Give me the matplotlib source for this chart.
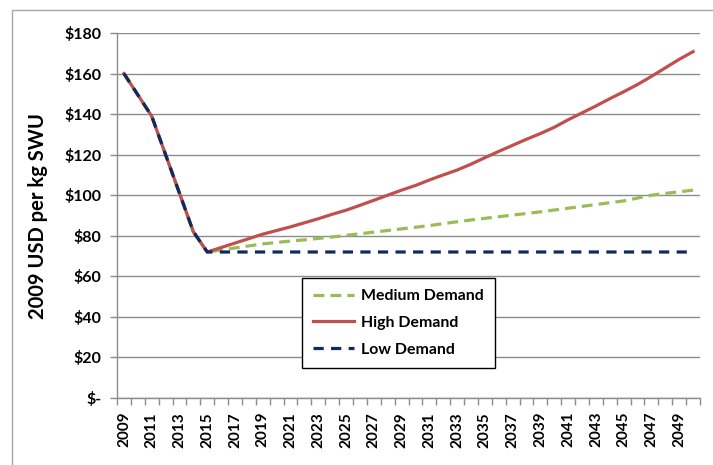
import matplotlib
matplotlib.use("Agg")
import matplotlib.pyplot as plt
from matplotlib.patches import Rectangle
from matplotlib.ticker import FuncFormatter, FixedLocator

years = list(range(2009, 2051))

medium_demand = [160, 149.5, 139, 120, 101, 82,
                 72, 73, 74, 75, 76, 76.7, 77.4, 78, 78.7, 79.4, 80.2,
                 81, 81.8, 82.6, 83.4, 84.2, 85, 86, 86.9, 87.8, 88.6,
                 89.4, 90.2, 91, 91.8, 92.7, 93.6, 94.5, 95.4, 96.3, 97.2,
                 98.6, 100, 100.9, 101.7, 102.5]
high_demand = [160, 149.5, 139, 120, 101, 82,
               72, 74.2, 76.4, 78.6, 80.8, 82.6, 84.4, 86.4, 88.4, 90.6, 92.6,
               95, 97.5, 100, 102.5, 104.8, 107.5, 110, 112.4, 115.3, 118.5,
               121.6, 124.6, 127.6, 130.4, 133.5, 137.2, 140.6, 144, 147.6, 151,
               154.6, 158.6, 162.8, 167, 170.8]
low_demand = [160, 149.5, 139, 120, 101, 82] + [72] * 36

y_ticks = [0, 20, 40, 60, 80, 100, 120, 140, 160, 180]

font = ["Lato", "DejaVu Sans"]
plt.rcParams["font.family"] = font
plt.rcParams["font.weight"] = "bold"

fig = plt.figure(figsize=(7.13, 4.65), dpi=100)
fig.patch.set_facecolor("white")
# outer chart-area frame (runs off the right and bottom edges)
fig.patches.append(Rectangle((12 / 713, -0.1), 1.2, 1 - 10 / 465 + 0.1,
                             transform=fig.transFigure, fill=False,
                             edgecolor="#a6a6a6", linewidth=1.0))

ax = fig.add_axes([117 / 713, 1 - 398 / 465, (700 - 117) / 713, (398 - 33) / 465])

idx = list(range(len(years)))
lw = 2.3
ax.plot(idx, medium_demand, color="#9BBB59", linewidth=lw,
        dashes=(3.4, 1.9), label="Medium Demand", zorder=3)
ax.plot(idx, high_demand, color="#C0504D", linewidth=lw,
        label="High Demand", zorder=4)
ax.plot(idx, low_demand, color="#0E2A5E", linewidth=lw,
        dashes=(3.2, 2.3), label="Low Demand", zorder=5)

ax.set_xlim(-0.5, len(years) - 0.5)
ax.set_ylim(0, 180)

# category labels every other year, tick marks at category boundaries
ax.xaxis.set_major_locator(FixedLocator(idx[::2]))
ax.set_xticklabels([str(y) for y in years[::2]], rotation=90,
                   fontsize=11, fontweight="bold")
ax.xaxis.set_minor_locator(FixedLocator([i - 0.5 for i in range(len(years) + 1)]))
ax.tick_params(axis="x", which="major", length=0, pad=10)
ax.tick_params(axis="x", which="minor", length=5, width=1, color="#8c8c8c",
               direction="out")

ax.set_yticks(y_ticks)
ax.yaxis.set_major_formatter(FuncFormatter(
    lambda v, p: "$-" if v == 0 else f"${int(v)}"))
ax.tick_params(axis="y", length=5, width=1, color="#8c8c8c", pad=6,
               labelsize=11.5)
for lab in ax.get_yticklabels():
    lab.set_fontweight("bold")

ax.grid(axis="y", color="#8c8c8c", linewidth=1.0)
ax.set_axisbelow(True)
for s in ("top", "right"):
    ax.spines[s].set_visible(False)
for s in ("left", "bottom"):
    ax.spines[s].set_color("#8c8c8c")
    ax.spines[s].set_linewidth(1.0)

ax.set_ylabel("2009 USD per kg SWU", fontsize=14.5, fontweight="bold", labelpad=12)

leg = ax.legend(loc="upper left", bbox_to_anchor=((302 - 117) / 583, (398 - 278) / 365),
                frameon=True, fancybox=False, edgecolor="black", framealpha=1,
                fontsize=11.4, handlelength=2.6, handletextpad=0.45,
                labelspacing=0.8, borderpad=0.7, borderaxespad=0)
leg.get_frame().set_linewidth(1.0)
for t in leg.get_texts():
    t.set_fontweight("bold")

fig.savefig("out.png", dpi=100)
